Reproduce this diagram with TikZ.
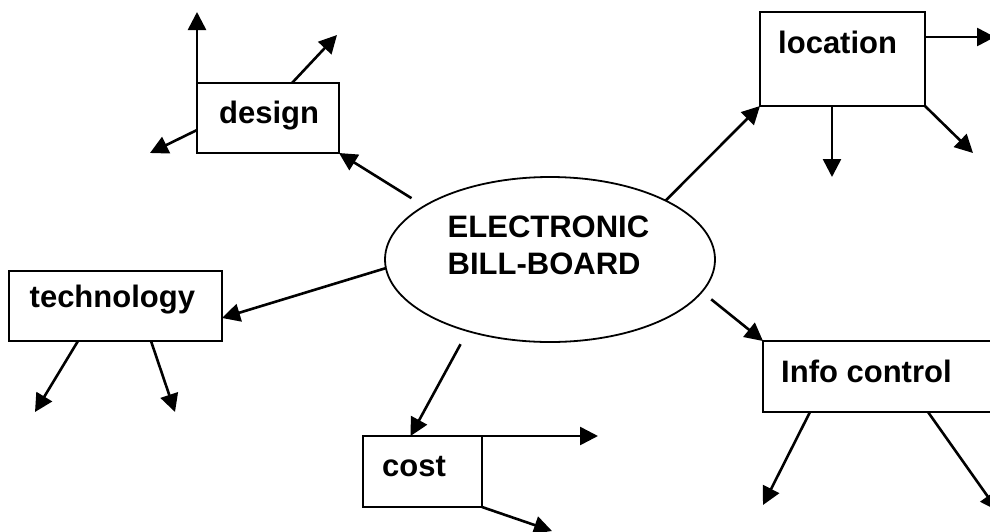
\documentclass[tikz,border=0pt]{standalone}
\usepackage{fontspec}
\setmainfont{Liberation Sans}
\usetikzlibrary{shapes.geometric,arrows.meta}

\begin{document}
\begin{tikzpicture}[x=1pt,y=-1pt,
  box/.style={draw,line width=1.8pt,rectangle,inner sep=0pt,outer sep=0pt},
  hub/.style={draw,line width=1.8pt,ellipse,inner sep=0pt,outer sep=0pt,
              minimum width=330pt,minimum height=165pt},
  word/.style={anchor=base west,inner sep=0pt,
               font=\fontsize{31}{37}\selectfont\bfseries},
  link/.style={line width=2.6pt,-{Triangle[length=18pt,width=18pt]}}
]
\useasboundingbox (0,0) rectangle (990,531);

% central idea
\node[hub] (bb) at (550,259.5) {};
\node[word] (bbA) at (447.5,237) {ELECTRONIC};
\node[word] (bbB) at (447.5,274) {BILL-BOARD};

% topic boxes
\node[box,minimum width=142pt,minimum height=70pt] (design) at (268,118) {};
\node[box,minimum width=165pt,minimum height=94pt] (location) at (842.5,59) {};
\node[box,minimum width=213pt,minimum height=70pt] (technology) at (115.5,306) {};
\node[box,minimum width=119pt,minimum height=71pt] (cost) at (422.5,471.5) {};
\node[box,minimum width=237pt,minimum height=71pt] (info) at (881.5,376.5) {};

% topic labels
\node[word] (designT) at (219,123) {design};
\node[word] (locationT) at (778,53) {location};
\node[word] (technologyT) at (29.5,307) {technology};
\node[word] (costT) at (382,476) {cost};
\node[word] (infoT) at (781,382) {Info control};

% free ends of the branch arrows
\coordinate (d1) at (197,12);
\coordinate (d2) at (337,35);
\coordinate (d3) at (150,153);
\coordinate (l1) at (995,37);
\coordinate (l2) at (832,177);
\coordinate (l3) at (973,153);
\coordinate (t1) at (35,412);
\coordinate (t2) at (175,412);
\coordinate (c1) at (598,436);
\coordinate (c2) at (552,531);
\coordinate (i1) at (763,505);
\coordinate (i2) at (998,511);

% hub to topics
\draw[link,shorten <=15pt] (bb.157.5) -- (design.south east);
\draw[link] (bb.27) -- (location.south west);
\draw[link] (bb.183.6) -- ([yshift=-12pt]technology.east);
\draw[link,shorten <=15pt] (bb.221.6) -- ([xshift=-12pt]cost.north);
\draw[link,shorten <=12pt] (bb.348.5) -- (info.north west);

% design branches
\draw[link] (design.north west) -- (d1);
\draw[link] ([xshift=24pt]design.north) -- (d2);
\draw[link] ([yshift=-12pt]design.west) -- (d3);

% location branches
\draw[link] ([yshift=22pt]location.east) -- (l1);
\draw[link] ([xshift=-10.5pt]location.south) -- (l2);
\draw[link] (location.south east) -- (l3);

% technology branches
\draw[link] ([xshift=-37.5pt]technology.south) -- (t1);
\draw[link] ([xshift=35.5pt]technology.south) -- (t2);

% cost branches
\draw[link] (cost.north east) -- (c1);
\draw[link] (cost.south east) -- (c2);

% info control branches
\draw[link] ([xshift=47pt]info.south west) -- (i1);
\draw[link] ([xshift=165pt]info.south west) -- (i2);
\end{tikzpicture}
\end{document}
